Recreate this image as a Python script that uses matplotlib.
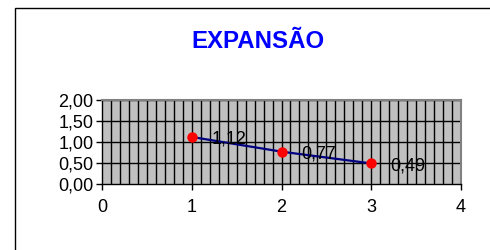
import matplotlib.pyplot as plt
from matplotlib.patches import Rectangle
import numpy as np

# data
x_vals = [1, 2, 3]
y_vals = [1.12, 0.77, 0.49]
point_labels = ["1,12", "0,77", "0,49"]
x_ticks = [0, 1, 2, 3, 4]
y_ticks = [0.0, 0.5, 1.0, 1.5, 2.0]

plt.rcParams["font.family"] = ["Liberation Sans", "DejaVu Sans"]

fig = plt.figure(figsize=(4.9, 2.5), dpi=100)

# outer chart frame (runs off the right/bottom edge)
fig.patches.append(Rectangle((15 / 490, -0.1), 1.0, 0.968 + 0.1,
                             transform=fig.transFigure, fill=False,
                             edgecolor="black", linewidth=1.0))

fig.text(0.527, 0.832, "EXPANSÃO", color="#0000FF", fontsize=17.3,
         fontweight="bold", ha="center", va="center")

ax = fig.add_axes([102 / 490, 0.264, 359 / 490, 0.336])
ax.set_facecolor("#C0C0C0")

# grid: fine vertical lines every 0.1, horizontal every 0.5
for gx in np.arange(0.1, 4.0, 0.1):
    ax.axvline(gx, color="black", linewidth=1.0, zorder=1)
for gy in y_ticks[1:]:
    ax.axhline(gy, color="black", linewidth=1.0, zorder=1)

ax.plot(x_vals, y_vals, color="#000080", linewidth=1.6, zorder=3)
ax.plot(x_vals, y_vals, "o", color="red", markersize=6.5, zorder=4)

for xv, yv, lab in zip(x_vals, y_vals, point_labels):
    ax.annotate(lab, (xv, yv), xytext=(14, -1.5), textcoords="offset points",
                ha="left", va="center", fontsize=13, color="black", zorder=5)

ax.set_xlim(0, 4)
ax.set_ylim(0, 2)
ax.set_xticks(x_ticks)
ax.set_xticklabels([str(t) for t in x_ticks])
ax.set_yticks(y_ticks)
ax.set_yticklabels([f"{t:.2f}".replace(".", ",") for t in y_ticks])
ax.tick_params(labelsize=13, length=4, width=1, color="black", pad=2)
ax.tick_params(axis="x", pad=7)

for side in ["top", "right"]:
    ax.spines[side].set_color("#808080")
    ax.spines[side].set_linewidth(1.5)
for side in ["left", "bottom"]:
    ax.spines[side].set_color("black")
    ax.spines[side].set_linewidth(1.0)

fig.savefig("out.png", dpi=100)
